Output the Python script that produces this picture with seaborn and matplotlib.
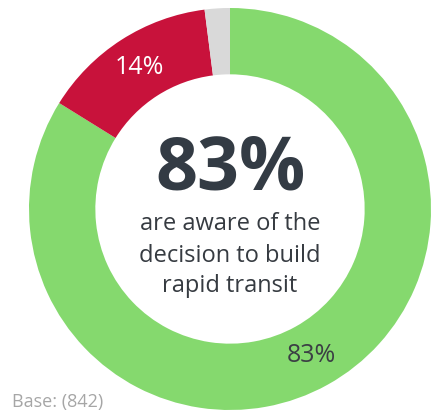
import numpy as np
import matplotlib
matplotlib.use("Agg")
import matplotlib.pyplot as plt
import seaborn as sns

categories = ["Aware", "Not aware", "Don't know"]
values = [83, 14, 2]
slice_labels = ["83%", "14%", ""]
colors = ["#85D96E", "#C8123B", "#D9D9D9"]
label_colors = ["#3B3F44", "#FFFFFF", "#3B3F44"]
center_value = "83%"
center_lines = ["are aware of the", "decision to build", "rapid transit"]
base_note = "Base: (842)"

sns.set_theme(style="white")
plt.rcParams['font.family'] = ['Open Sans', 'DejaVu Sans']

fig = plt.figure(figsize=(4.36, 4.12), dpi=100)
R_PX = 201.0
CX, CY = 230.0, 209.0
ax = fig.add_axes([(CX - R_PX)/436, (412 - CY - R_PX)/412, 2*R_PX/436, 2*R_PX/412])
wedges, _ = ax.pie(values, colors=colors, startangle=90, counterclock=False,
                   radius=1.0, wedgeprops=dict(width=0.33, edgecolor='none'))
ax.set_xlim(-1, 1)
ax.set_ylim(-1, 1)
ax.set_aspect('equal')
ax.axis('off')

for w, lab, lc in zip(wedges, slice_labels, label_colors):
    if not lab:
        continue
    ang = np.deg2rad((w.theta1 + w.theta2) / 2)
    r = 0.835
    ax.text(r*np.cos(ang), r*np.sin(ang), lab, ha='center', va='center',
            fontsize=18, color=lc)

def ypix(p):
    return (CY - p) / R_PX

ax.text(0, ypix(190), center_value, ha='center', va='baseline', fontsize=53,
        fontweight='bold', color='#333B44')
for line, base in zip(center_lines, [230, 261.5, 292.5]):
    ax.text(0, ypix(base), line, ha='center', va='baseline', fontsize=17,
            color='#363B41')

fig.text(12/436, 1.0/412, base_note, ha='left', va='bottom', fontsize=13,
         color='#A6A6A6')

fig.savefig('out.png', dpi=100)
